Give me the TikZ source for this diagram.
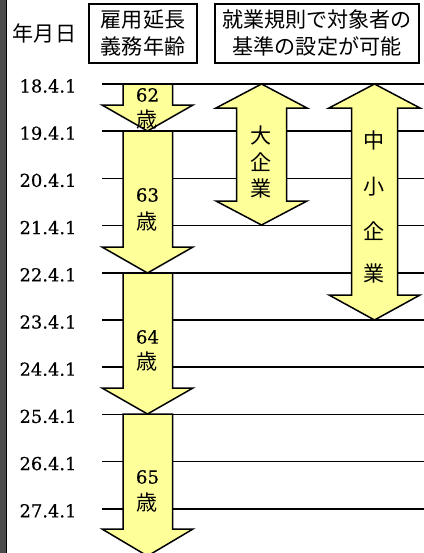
\documentclass[tikz,border=0pt]{standalone}
\usepackage{fontspec}
\newfontfamily\jpfont{Noto Sans CJK JP}
\newfontfamily\numfont[FakeBold=0.4]{DejaVu Serif}
\begin{document}
\begin{tikzpicture}[x=0.75pt,y=-0.75pt,
  rowline/.style={line width=1.6pt*0.75},
  yarrow/.style={fill={rgb,255:red,255;green,255;blue,153},draw=black,line width=1.5*0.75pt,line join=miter},
  datelbl/.style={font=\numfont\fontsize{13.4pt}{15pt}\selectfont,inner sep=0pt},
  agelbl/.style={font=\numfont\fontsize{13.6pt}{15pt}\selectfont,inner sep=0pt},
  jptxt/.style={font=\jpfont\fontsize{15.8pt}{20.25pt}\selectfont,inner sep=0pt,align=center},
  hdrbox/.style={jptxt,draw=black,line width=1.5*0.75pt,minimum height=59*0.75pt}]
\useasboundingbox (0,0) rectangle (424,553);
\clip (0,0) rectangle (424,553);

% dark frame edge on the left
\fill[gray!60!black] (0,0) rectangle (6,553);
\draw[line width=1.5*0.75pt] (6.5,0) -- (6.5,553);

% header
\node[jptxt] (hdate) at (44.5,33) {年月日};
\node[hdrbox,minimum width=108*0.75pt] (hage) at (143,33.5) {雇用延長\\義務年齢};
\node[hdrbox,minimum width=204*0.75pt] (hrule) at (317,33.5) {就業規則で対象者の\\基準の設定が可能};

% year rows
\foreach \lbl [count=\i from 0] in {18.4.1,19.4.1,20.4.1,21.4.1,22.4.1,23.4.1,24.4.1,25.4.1,26.4.1,27.4.1}{
  \pgfmathsetmacro{\yy}{84+47.2*\i}
  \node[datelbl] (d\i) at (48,\yy+2) {\lbl};
  \coordinate (r\i) at (102,\yy);
  \coordinate (e\i) at (424,\yy);
  \draw[rowline] (r\i) -- (e\i);
}

% mandatory employment age arrows
\newcommand{\agearrow}[3]{% top, head base, tip
  \draw[yarrow] (123,#1) -- (172.5,#1) -- (172.5,#2) -- (193,#2) -- (147.5,#3)
    -- (102,#2) -- (123,#2) -- cycle;}
\agearrow{84}{105}{131}
\agearrow{131}{247}{273}
\agearrow{273}{388}{414}
\agearrow{414}{529}{556}

\node[agelbl] (n62) at (147.5,95) {62};
\node[jptxt] (s62) at (147.5,120) {歳};
\node[agelbl] (n63) at (147.5,195) {63};
\node[jptxt] (s63) at (147.5,222) {歳};
\node[agelbl] (n64) at (147.5,337) {64};
\node[jptxt] (s64) at (147.5,362) {歳};
\node[agelbl] (n65) at (147.5,477) {65};
\node[jptxt] (s65) at (147.5,503) {歳};

% period in which criteria may be set by work rules
\newcommand{\spanarrow}[7]{% cx, shaft half, head half, top tip, top base, bottom base, bottom tip
  \draw[yarrow] (#1,#4) -- (#1+#3,#5) -- (#1+#2,#5) -- (#1+#2,#6) -- (#1+#3,#6)
    -- (#1,#7) -- (#1-#3,#6) -- (#1-#2,#6) -- (#1-#2,#5) -- (#1-#3,#5) -- cycle;}
\spanarrow{261.5}{25}{45.5}{84}{108}{201}{225}
\spanarrow{374.5}{23}{45.5}{84}{108}{295}{320}

\node[jptxt] (l1) at (261.5,135) {大};
\node[jptxt] (l2) at (261.5,162) {企};
\node[jptxt] (l3) at (261.5,188) {業};
\node[jptxt] (m1) at (374.5,140) {中};
\node[jptxt] (m2) at (374.5,186.5) {小};
\node[jptxt] (m3) at (374.5,231) {企};
\node[jptxt] (m4) at (374.5,273) {業};
\end{tikzpicture}
\end{document}
